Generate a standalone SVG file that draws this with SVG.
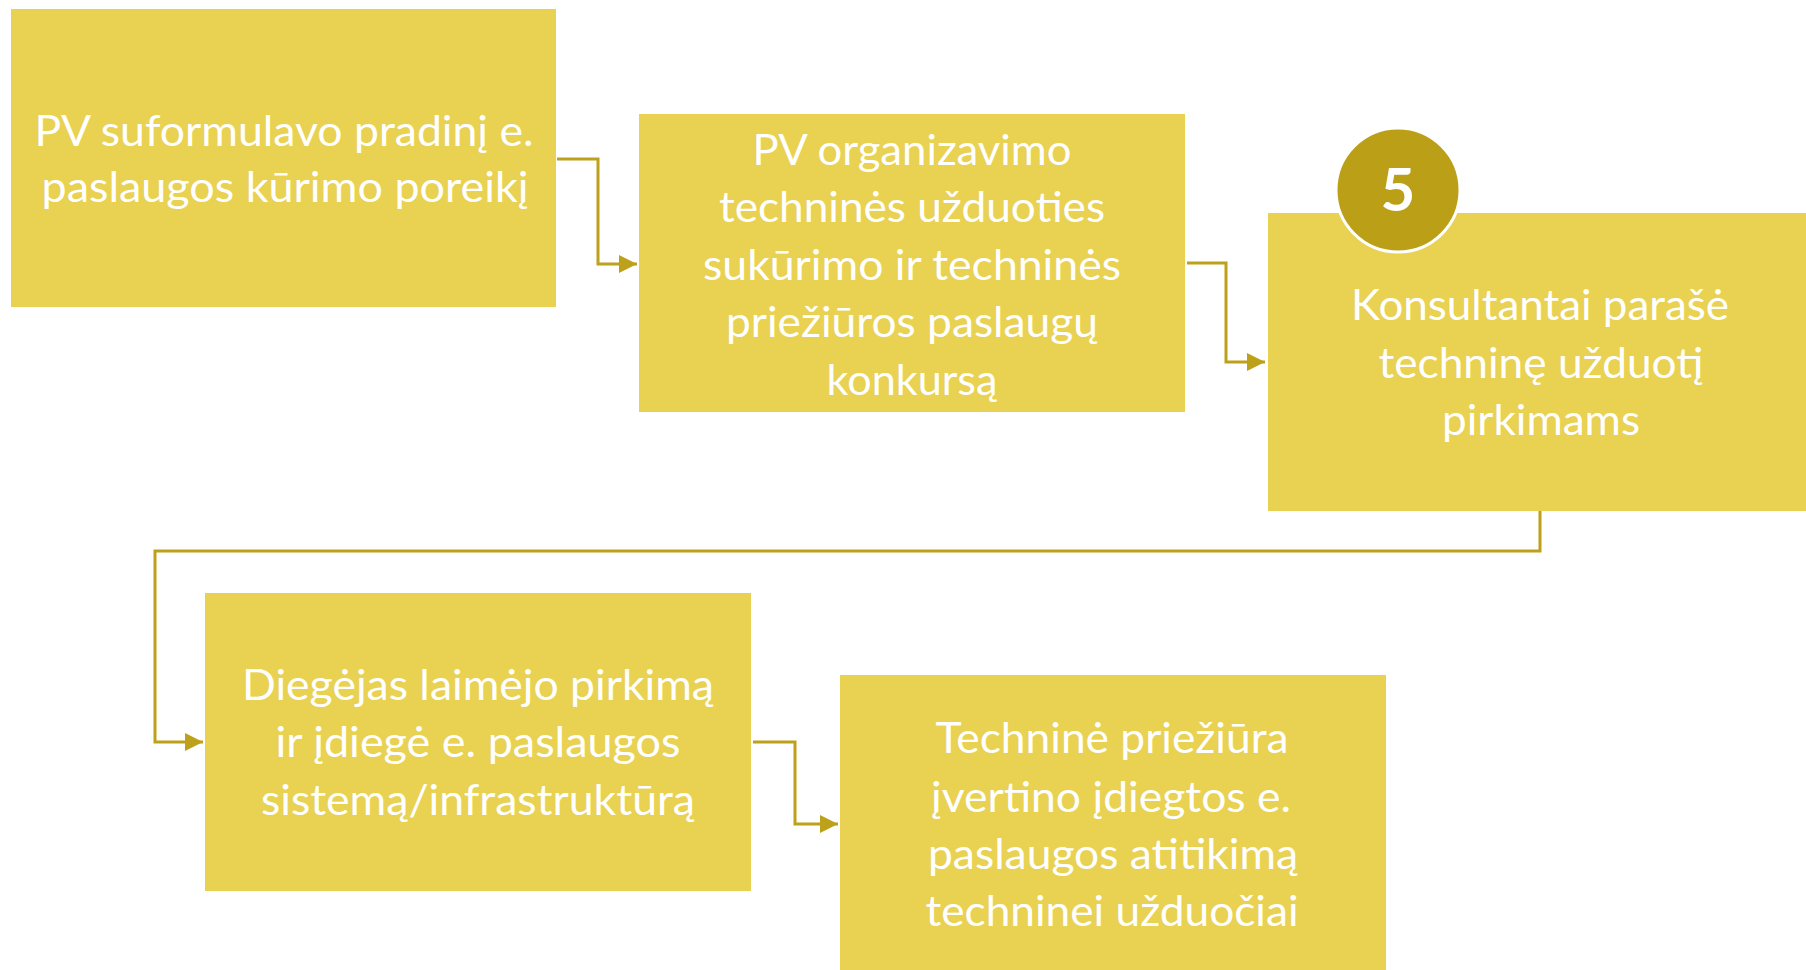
<svg xmlns="http://www.w3.org/2000/svg" width="1806" height="970" viewBox="0 0 1806 970">
<style>
.box{fill:#E9D152;}
.t{font-family:Lato,"Open Sans","Liberation Sans",sans-serif;font-size:42px;fill:#FFFFFF;text-anchor:middle;}
.c{fill:none;stroke:#BDA11A;stroke-width:3;}
</style>
<defs>
<marker id="ah" viewBox="0 0 10 10" refX="10" refY="5" markerWidth="6" markerHeight="6" markerUnits="strokeWidth" orient="auto">
<path d="M0,0 L10,5 L0,10 Z" fill="#BDA11A"/>
</marker>
</defs>
<g id="connectors">
<path class="c" d="M557,159 H598 V264 H637" marker-end="url(#ah)"/>
<path class="c" d="M1187,263 H1226 V362 H1265" marker-end="url(#ah)"/>
<path class="c" d="M1540,511 V551 H155 V742 H203" marker-end="url(#ah)"/>
<path class="c" d="M753,742 H795 V824 H838" marker-end="url(#ah)"/>
</g>
<g id="node1">
<rect class="box" x="11" y="9" width="545" height="298"/>
<text class="t" x="284" y="146" textLength="499" lengthAdjust="spacingAndGlyphs">PV suformulavo pradinį e.</text>
<text class="t" x="285" y="202" textLength="487" lengthAdjust="spacingAndGlyphs">paslaugos kūrimo poreikį</text>
</g>
<g id="node2">
<rect class="box" x="639" y="114" width="546" height="298"/>
<text class="t" x="912" y="165" textLength="319" lengthAdjust="spacingAndGlyphs">PV organizavimo</text>
<text class="t" x="912" y="222" textLength="386" lengthAdjust="spacingAndGlyphs">techninės užduoties</text>
<text class="t" x="912" y="280" textLength="418" lengthAdjust="spacingAndGlyphs">sukūrimo ir techninės</text>
<text class="t" x="912" y="337" textLength="372" lengthAdjust="spacingAndGlyphs">priežiūros paslaugų</text>
<text class="t" x="912" y="395" textLength="171" lengthAdjust="spacingAndGlyphs">konkursą</text>
</g>
<g id="node3">
<rect class="box" x="1268" y="213" width="540" height="298"/>
<text class="t" x="1540" y="320" textLength="378" lengthAdjust="spacingAndGlyphs">Konsultantai parašė</text>
<text class="t" x="1541" y="378" textLength="325" lengthAdjust="spacingAndGlyphs">techninę užduotį</text>
<text class="t" x="1541" y="435" textLength="198" lengthAdjust="spacingAndGlyphs">pirkimams</text>
<circle cx="1398" cy="190" r="62" fill="#BBA017" stroke="#FFFFFF" stroke-width="3"/>
<text x="1398" y="211" text-anchor="middle" font-family="Lato,'Open Sans','Liberation Sans',sans-serif" font-weight="bold" font-size="60" fill="#FFFFFF">5</text>
</g>
<g id="node4">
<rect class="box" x="205" y="593" width="546" height="298"/>
<text class="t" x="478" y="700" textLength="472" lengthAdjust="spacingAndGlyphs">Diegėjas laimėjo pirkimą</text>
<text class="t" x="478" y="757" textLength="405" lengthAdjust="spacingAndGlyphs">ir įdiegė e. paslaugos</text>
<text class="t" x="478" y="815" textLength="434" lengthAdjust="spacingAndGlyphs">sistemą/infrastruktūrą</text>
</g>
<g id="node5">
<rect class="box" x="840" y="675" width="546" height="300"/>
<text class="t" x="1112" y="753" textLength="353" lengthAdjust="spacingAndGlyphs">Techninė priežiūra</text>
<text class="t" x="1111" y="812" textLength="360" lengthAdjust="spacingAndGlyphs">įvertino įdiegtos e.</text>
<text class="t" x="1113" y="869" textLength="370" lengthAdjust="spacingAndGlyphs">paslaugos atitikimą</text>
<text class="t" x="1112" y="926" textLength="373" lengthAdjust="spacingAndGlyphs">techninei užduočiai</text>
</g>
</svg>
